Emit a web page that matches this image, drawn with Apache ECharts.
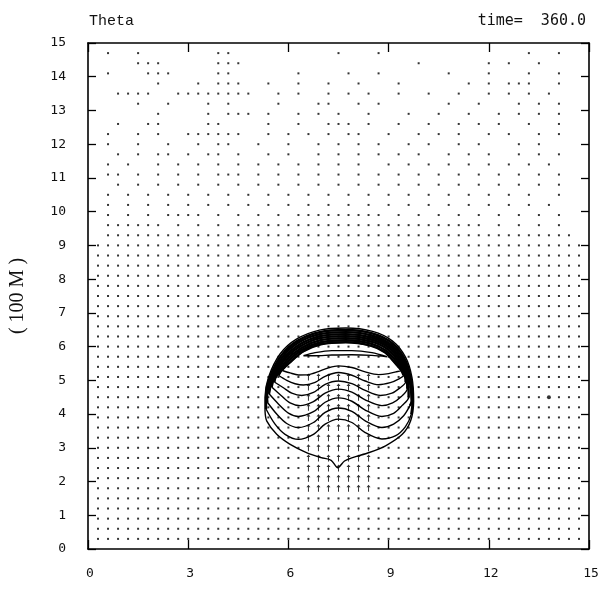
<!DOCTYPE html>
<html>
<head>
<meta charset="utf-8">
<title>Theta</title>
<script src="https://cdn.jsdelivr.net/npm/echarts@6/dist/echarts.min.js"></script>
<style>
  html, body { margin: 0; padding: 0; background: #fff; }
  #chart { width: 615px; height: 592px; }
</style>
</head>
<body>
<div id="chart"></div>
<script>
// axis ticks
const xTicks = [0, 3, 6, 9, 12, 15]
const yTicks = [0, 1, 2, 3, 4, 5, 6, 7, 8, 9, 10, 11, 12, 13, 14, 15]

// outer theta contour of the bubble (closed, with the cusp at the bottom)
const outerContour = [
  [5.30, 4.09], [5.30, 4.49], [5.40, 5.08], [5.75, 5.78], [6.24, 6.22], [6.93, 6.49],
  [7.72, 6.55], [8.52, 6.45], [9.11, 6.17], [9.51, 5.68], [9.70, 5.08], [9.75, 4.39],
  [9.66, 3.80], [9.41, 3.40], [8.91, 3.06], [8.42, 2.86], [7.92, 2.71], [7.68, 2.61],
  [7.48, 2.41], [7.28, 2.63], [6.98, 2.71], [6.54, 2.86], [6.04, 3.11], [5.65, 3.40],
  [5.35, 3.80], [5.30, 4.09]
]

// upper parts of the nested contours (packed into the dark cap)
const capArc0 = [[5.33, 4.49], [5.44, 5.08], [5.79, 5.74], [6.27, 6.17], [6.94, 6.43], [7.72, 6.49], [8.51, 6.39], [9.08, 6.12], [9.47, 5.65], [9.66, 5.08], [9.72, 4.39]]
const capArc1 = [[5.36, 4.49], [5.49, 5.08], [5.83, 5.70], [6.30, 6.12], [6.94, 6.37], [7.72, 6.43], [8.50, 6.33], [9.05, 6.07], [9.43, 5.62], [9.62, 5.08], [9.69, 4.39]]
const capArc2 = [[5.53, 5.07], [5.87, 5.66], [6.33, 6.06], [6.95, 6.31], [7.72, 6.37], [8.49, 6.27], [9.02, 6.03], [9.39, 5.59], [9.58, 5.08]]
const capArc3 = [[5.57, 5.07], [5.90, 5.63], [6.36, 6.01], [6.95, 6.25], [7.72, 6.31], [8.48, 6.21], [8.99, 5.98], [9.35, 5.56], [9.54, 5.08]]
const capArc4 = [[5.61, 5.07], [5.94, 5.59], [6.39, 5.96], [6.96, 6.19], [7.72, 6.25], [8.48, 6.15], [8.96, 5.93], [9.31, 5.53], [9.50, 5.08]]
const capArc5 = [[5.98, 5.55], [6.42, 5.91], [6.97, 6.13], [7.72, 6.19], [8.47, 6.09], [8.92, 5.88], [9.27, 5.50]]
const capArc6 = [[6.02, 5.51], [6.45, 5.86], [6.97, 6.07], [7.72, 6.13], [8.46, 6.03], [8.89, 5.83], [9.23, 5.47]]

// wavy lower parts of the same contours, left to right
const wave0 = [[5.33, 4.15], [5.60, 3.70], [5.90, 3.40], [6.30, 3.25], [6.75, 3.40], [7.10, 3.70], [7.50, 3.85], [7.90, 3.75], [8.30, 3.45], [8.80, 3.26], [9.20, 3.35], [9.50, 3.62], [9.68, 4.00]]
const wave1 = [[5.37, 4.35], [5.65, 4.00], [5.95, 3.72], [6.30, 3.60], [6.75, 3.75], [7.10, 4.05], [7.50, 4.18], [7.90, 4.08], [8.30, 3.80], [8.80, 3.60], [9.15, 3.70], [9.45, 3.95], [9.64, 4.25]]
const wave2 = [[5.42, 4.60], [5.70, 4.30], [6.00, 4.03], [6.30, 3.93], [6.75, 4.07], [7.10, 4.35], [7.50, 4.48], [7.90, 4.38], [8.30, 4.12], [8.80, 3.93], [9.15, 4.02], [9.40, 4.25], [9.60, 4.50]]
const wave3 = [[5.50, 4.80], [5.78, 4.55], [6.05, 4.33], [6.35, 4.25], [6.75, 4.37], [7.10, 4.62], [7.50, 4.74], [7.90, 4.65], [8.30, 4.42], [8.80, 4.25], [9.12, 4.33], [9.38, 4.52], [9.56, 4.75]]
const wave4 = [[5.58, 4.95], [5.85, 4.78], [6.10, 4.62], [6.40, 4.55], [6.75, 4.64], [7.10, 4.88], [7.50, 4.98], [7.90, 4.90], [8.30, 4.70], [8.75, 4.55], [9.10, 4.62], [9.33, 4.77], [9.51, 4.95]]
const wave5 = [[5.70, 5.15], [5.95, 5.00], [6.20, 4.90], [6.45, 4.86], [6.80, 4.94], [7.10, 5.12], [7.50, 5.23], [7.90, 5.15], [8.30, 4.98], [8.70, 4.87], [9.05, 4.93], [9.28, 5.03], [9.45, 5.15]]
const wave6 = [[5.80, 5.30], [6.05, 5.22], [6.30, 5.16], [6.60, 5.17], [6.90, 5.26], [7.20, 5.37], [7.50, 5.43], [7.90, 5.38], [8.30, 5.25], [8.70, 5.17], [9.00, 5.20], [9.22, 5.25], [9.38, 5.30]]

// innermost thin closed contour under the cap
const lensContour = [
  [6.45, 5.73], [6.80, 5.82], [7.30, 5.88], [7.90, 5.88], [8.50, 5.82], [8.95, 5.70],
  [8.50, 5.74], [7.90, 5.76], [7.30, 5.75], [6.80, 5.73], [6.45, 5.73]
]

// grid points of the wind vectors (both directions)
const gridPos = [
  0.3, 0.6, 0.9, 1.2, 1.5, 1.8, 2.1, 2.4, 2.7, 3.0, 3.3, 3.6, 3.9, 4.2, 4.5, 4.8, 5.1,
  5.4, 5.7, 6.0, 6.3, 6.6, 6.9, 7.2, 7.5, 7.8, 8.1, 8.4, 8.7, 9.0, 9.3, 9.6, 9.9,
  10.2, 10.5, 10.8, 11.1, 11.4, 11.7, 12.0, 12.3, 12.6, 12.9, 13.2, 13.5, 13.8, 14.1, 14.4, 14.7
]

// vector marks per row, top row first: '.' dot, '^' upward arrow, 'O' blob, ' ' none
const vectorRows = [
  ' .  .       ..          .   .              .  .  ',
  '    ...     ...                 .      . .  .   ',
  ' .   ...    ..      .    .  .      .   .   .  . ',
  '      .   . ...  .  .  .  .   .      . . ...  . ',
  '  ....  ........  . .  . . .  .  .  .  . . . .  ',
  '    .  .   . .    .   ..  . .      .  .   . . . ',
  '      .    . ... .  . . .  .   .  .  .  . . . . ',
  '  .  ..    ..    .  .  ... .  .  .  . . .  .  . ',
  ' .  . .  ......  . . . . ..  .  . . .  . .  . . ',
  ' .  .  .  . ..  .  .  . . . .  . .  . .   . .  ',
  '  . . .. . .. .  . .  . . . . . .  . . .  . . . ',
  ' . .  . . . . . . . . . . .  . . . . . . . . .  ',
  ' .. . . . . ... . . . . . . . . . . . . . . . . ',
  '  . . . . . . . . . . . . . . . . . . . . . . . ',
  ' . . . . . . . . . . . . . . . . . . . . . .  . ',
  ' . . . . . . . . . . . . . . . . . . . . . . . ',
  ' . . . .... . . . . ......... . . . . . . . . . ',
  ' ...... . . . ......................... . . . . ',
  ' ............................................... ',
  '.................................................',
  '.................................................',
  '.................................................',
  '.................................................',
  '.................................................',
  '.................................................',
  '.................................................',
  '.................................................',
  '.................................................',
  '.................................................',
  '.................................................',
  '.................................................',
  '.................................................',
  '.....................^^^^^^^.....................',
  '.....................^^^^^^^.....................',
  '.....................^^^^^^^.................O...',
  '.....................^^^^^^^.....................',
  '.....................^^^^^^^.....................',
  '.....................^^^^^^^.....................',
  '.....................^^^^^^^.....................',
  '.....................^^^^^^^.....................',
  '.....................^^^^^^^.....................',
  '.....................^^^^^^^.....................',
  '.....................^^^^^^^.....................',
  '.....................^^^^^^^.....................',
  '.................................................',
  '.................................................',
  '.................................................',
  '.................................................',
  '.................................................'
]

const fontDigits = '"DejaVu Sans Mono", monospace'

// collect the vector marks
const dots = []
const arrows = []
const blobs = []
vectorRows.forEach((row, r) => {
  const y = gridPos[gridPos.length - 1 - r]
  for (let c = 0; c < gridPos.length; c++) {
    const ch = row[c]
    if (ch === '.') dots.push([gridPos[c], y])
    else if (ch === '^') arrows.push([gridPos[c], y])
    else if (ch === 'O') blobs.push([gridPos[c], y])
  }
})

// closed contours: wave goes left->right, cap arc runs over the top
const waves = [wave0, wave1, wave2, wave3, wave4, wave5, wave6]
const caps = [capArc0, capArc1, capArc2, capArc3, capArc4, capArc5, capArc6]
const loops = waves.map((w, k) => [w[0], ...caps[k], ...w.slice().reverse()])
// the cap part is drawn again, heavier, so it reads as the dark band
const capLines = waves.map((w, k) => [w[0], ...caps[k], w[w.length - 1]])

const contourLine = (data, width) => ({
  type: 'line',
  data: data,
  showSymbol: false,
  silent: true,
  smooth: 0.3,
  lineStyle: { color: '#000', width: width },
  z: 5
})

const chart = echarts.init(document.getElementById('chart'), null, { renderer: 'canvas' })

const option = {
  animation: false,
  backgroundColor: '#fff',
  title: [
    {
      text: 'Theta',
      left: 84,
      top: 9,
      textStyle: { fontFamily: '"Liberation Mono", monospace', fontSize: 15, fontWeight: 'normal', color: '#111' }
    },
    {
      text: 'time=  360.0',
      right: 24,
      top: 9,
      textStyle: { fontFamily: fontDigits, fontSize: 15, fontWeight: 'normal', color: '#111' }
    }
  ],
  grid: { left: 83, top: 43, width: 506, height: 506 },
  xAxis: [
    {
      type: 'value', min: 0, max: 15, interval: 3,
      axisLine: { onZero: false, lineStyle: { color: '#000', width: 1.6 } },
      axisTick: { inside: true, length: 9, lineStyle: { color: '#000', width: 1.3 } },
      axisLabel: {
        margin: 18, color: '#111', fontFamily: fontDigits, fontSize: 13, padding: [0, 0, 0, 4],
        customValues: xTicks
      },
      splitLine: { show: false }
    },
    {
      type: 'value', min: 0, max: 15, interval: 3, position: 'top',
      axisLine: { onZero: false, lineStyle: { color: '#000', width: 1.6 } },
      axisTick: { inside: true, length: 9, lineStyle: { color: '#000', width: 1.3 } },
      axisLabel: { show: false },
      splitLine: { show: false }
    }
  ],
  yAxis: [
    {
      type: 'value', min: 0, max: 15, interval: 1,
      name: '( 100 M )',
      nameLocation: 'middle',
      nameGap: 60,
      nameRotate: 90,
      nameTextStyle: { fontFamily: '"Liberation Serif", serif', fontSize: 20, color: '#111' },
      axisLine: { onZero: false, lineStyle: { color: '#000', width: 1.6 } },
      axisTick: { inside: true, length: 8, lineStyle: { color: '#000', width: 1.3 } },
      axisLabel: {
        margin: 22, color: '#111', fontFamily: fontDigits, fontSize: 13,
        customValues: yTicks
      },
      splitLine: { show: false }
    },
    {
      type: 'value', min: 0, max: 15, interval: 1, position: 'right',
      axisLine: { onZero: false, lineStyle: { color: '#000', width: 1.6 } },
      axisTick: { inside: true, length: 8, lineStyle: { color: '#000', width: 1.3 } },
      axisLabel: { show: false },
      splitLine: { show: false }
    }
  ],
  series: [
    {
      type: 'scatter',
      data: dots,
      symbol: 'rect',
      symbolSize: 2,
      silent: true,
      itemStyle: { color: '#000' }
    },
    {
      type: 'scatter',
      data: arrows,
      symbol: 'path://M5,0 L9,5 L6,5 L6,14 L4,14 L4,5 L1,5 Z',
      symbolSize: [4, 7],
      silent: true,
      itemStyle: { color: '#000' }
    },
    {
      type: 'scatter',
      data: blobs,
      symbol: 'circle',
      symbolSize: 4,
      silent: true,
      itemStyle: { color: '#000' }
    },
    contourLine(outerContour, 1.4),
    ...loops.map(l => contourLine(l, 1.4)),
    ...capLines.map(l => contourLine(l, 2.4)),
    contourLine(lensContour, 1.4)
  ]
}

chart.setOption(option)
</script>
</body>
</html>
